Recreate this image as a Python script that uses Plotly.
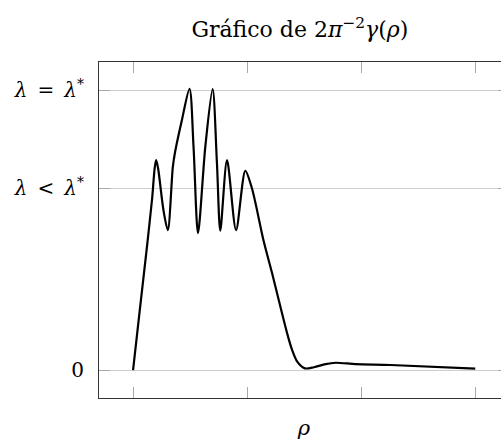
import plotly.graph_objects as go

# data (x in tick units, y scaled so that lambda* = 1)
rho = [0.0, 0.061, 0.120, 0.167, 0.189, 0.202, 0.219, 0.266, 0.304, 0.348, 0.368,
       0.427, 0.494, 0.529, 0.568, 0.632, 0.696, 0.734, 0.763, 0.822, 0.901,
       0.982, 1.041, 1.143, 1.217, 1.289, 1.348, 1.392, 1.436, 1.503, 1.582,
       1.684, 1.772, 1.947, 2.254, 2.994]
gamma = [0.0, 0.222, 0.435, 0.614, 0.721, 0.750, 0.721, 0.571, 0.500, 0.726, 0.780,
         0.893, 1.005, 0.798, 0.489, 0.798, 1.004, 0.738, 0.498, 0.750, 0.500,
         0.712, 0.648, 0.460, 0.345, 0.226, 0.131, 0.071, 0.030, 0.006, 0.010,
         0.021, 0.026, 0.021, 0.018, 0.005]

x_ticks = [0, 1, 2, 3]
y_ticks = [0, 0.65, 1.0]
y_labels = ["0",
            "<i>λ</i>\u2002&lt;\u2002<i>λ</i><sup>*</sup>",
            "<i>λ</i>\u2002=\u2002<i>λ</i><sup>*</sup>"]

title_text = "Gráfico de 2<i>π</i><sup>−2</sup><i>γ</i>(<i>ρ</i>)"
x_title = "<i>ρ</i>"

FONT = "DejaVu Serif"

fig = go.Figure()
fig.add_trace(go.Scatter(x=rho, y=gamma, mode="lines",
                         line=dict(color="black", width=2.2, shape="spline", smoothing=0.8),
                         hoverinfo="skip", showlegend=False))

fig.update_layout(
    width=510, height=447,
    margin=dict(l=99, r=1, t=62, b=49),
    paper_bgcolor="white", plot_bgcolor="white",
    font=dict(family=FONT, size=20, color="black"),
    title=dict(text=title_text, xref="paper", x=0.49, xanchor="center",
               yref="container", y=0.935, yanchor="middle",
               font=dict(family=FONT, size=22, color="black")),
)
fig.update_xaxes(range=[-0.298, 3.289], tickvals=x_ticks, showticklabels=False,
                 ticks="inside", ticklen=11, tickcolor="#a8a8a8", tickwidth=1,
                 showgrid=False, zeroline=False,
                 showline=True, linecolor="#333333", linewidth=1.2, mirror="ticks",
                 title=dict(text=x_title, font=dict(size=21), standoff=22))
fig.update_yaxes(range=[-0.1, 1.101], tickvals=y_ticks, ticktext=y_labels,
                 ticks="inside", ticklen=11, tickcolor="#a8a8a8", tickwidth=1,
                 showgrid=True, gridcolor="#cfcfcf", gridwidth=1, zeroline=False,
                 showline=True, linecolor="#333333", linewidth=1.2, mirror="ticks",
                 ticklabelstandoff=10)

fig.write_html("out.html", config={"displayModeBar": False},
               post_script="document.body.style.margin='0';document.body.style.overflow='hidden';")
